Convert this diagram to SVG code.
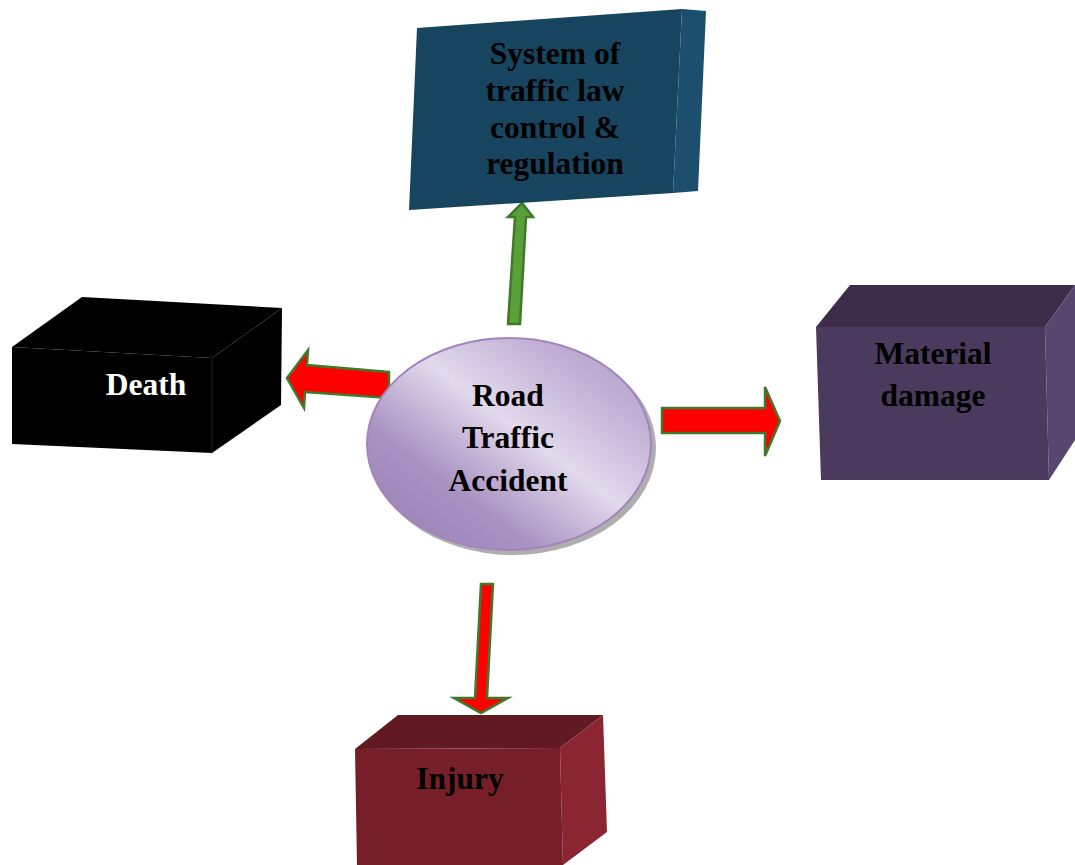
<svg xmlns="http://www.w3.org/2000/svg" width="1075" height="865" viewBox="0 0 1075 865">
<defs>
<style>
.lbl{font-family:"Liberation Serif","Times New Roman",serif;font-weight:bold;font-size:31.5px;text-anchor:middle;}
.red{fill:#ff0000;stroke:#3f7a2c;stroke-width:2.5;stroke-linejoin:miter;}
.green{fill:#5aa03a;stroke:#3e7a28;stroke-width:2.5;}
</style>
<linearGradient id="eg" x1="0" y1="1" x2="1" y2="0">
<stop offset="0" stop-color="#967cb3"/>
<stop offset="0.3" stop-color="#a993c3"/>
<stop offset="0.55" stop-color="#e1d9ec"/>
<stop offset="0.78" stop-color="#c2b1d5"/>
<stop offset="1" stop-color="#ad97c7"/>
</linearGradient>
</defs>
<rect width="1075" height="865" fill="#ffffff"/>

<g id="connectors">
<polygon class="green" points="508,324 520,324 526,217 533,217 522,203 508,217 515,217"/>
<polygon class="red" points="389,372 307,365 308,350 287,378 304,408 305,392 389,398"/>
<polygon class="red" points="662,408 765,408 765,387 780,421 765,456 765,433 662,433"/>
<polygon class="red" points="481,584 493,584 487,698 508,698 481,713 454,698 475,698"/>
</g>

<g id="node-system">
<polygon points="417,28 682,9 673,193 409,210" fill="#17455f"/>
<polygon points="682,9 706,11 698,191 673,193" fill="#1b4f6d"/>
<text class="lbl" fill="#000000"><tspan x="555" y="64">System of</tspan><tspan x="555" y="101">traffic law</tspan><tspan x="555" y="138">control &amp;</tspan><tspan x="555" y="174">regulation</tspan></text>
</g>

<g id="node-death">
<polygon points="12,347 82,297 282,308 212,358" fill="#000000"/>
<polygon points="212,358 282,308 281,405 212,453" fill="#000000"/>
<polygon points="12,347 212,358 212,453 12,444" fill="#000000"/>
<line x1="212" y1="358" x2="212" y2="453" stroke="#222" stroke-width="1"/>
<text class="lbl" x="146" y="395" fill="#ffffff">Death</text>
</g>

<g id="node-material">
<polygon points="816,327 850,285 1075,285 1045,327" fill="#3d2d4a"/>
<polygon points="1045,327 1075,285 1075,440 1049,480" fill="#584570"/>
<polygon points="816,327 1045,327 1049,480 821,480" fill="#4a3a5e"/>
<text class="lbl" fill="#000000"><tspan x="933" y="364">Material</tspan><tspan x="933" y="406">damage</tspan></text>
</g>

<g id="node-injury">
<polygon points="355,749 398,715 603,715 560,748" fill="#611a22"/>
<polygon points="560,748 603,715 607,832 563,865" fill="#8b2532"/>
<polygon points="355,749 560,748 563,865 357,865" fill="#761f28"/>
<text class="lbl" x="460" y="789" fill="#000000">Injury</text>
</g>

<g id="node-center">
<ellipse cx="513" cy="448" rx="143" ry="107" fill="#9a9a9a" opacity="0.8"/>
<ellipse cx="509" cy="444" rx="142" ry="106" fill="url(#eg)" stroke="#a384bd" stroke-width="2"/>
<text class="lbl" fill="#000000"><tspan x="508" y="406">Road</tspan><tspan x="508" y="448">Traffic</tspan><tspan x="508" y="491">Accident</tspan></text>
</g>
</svg>
